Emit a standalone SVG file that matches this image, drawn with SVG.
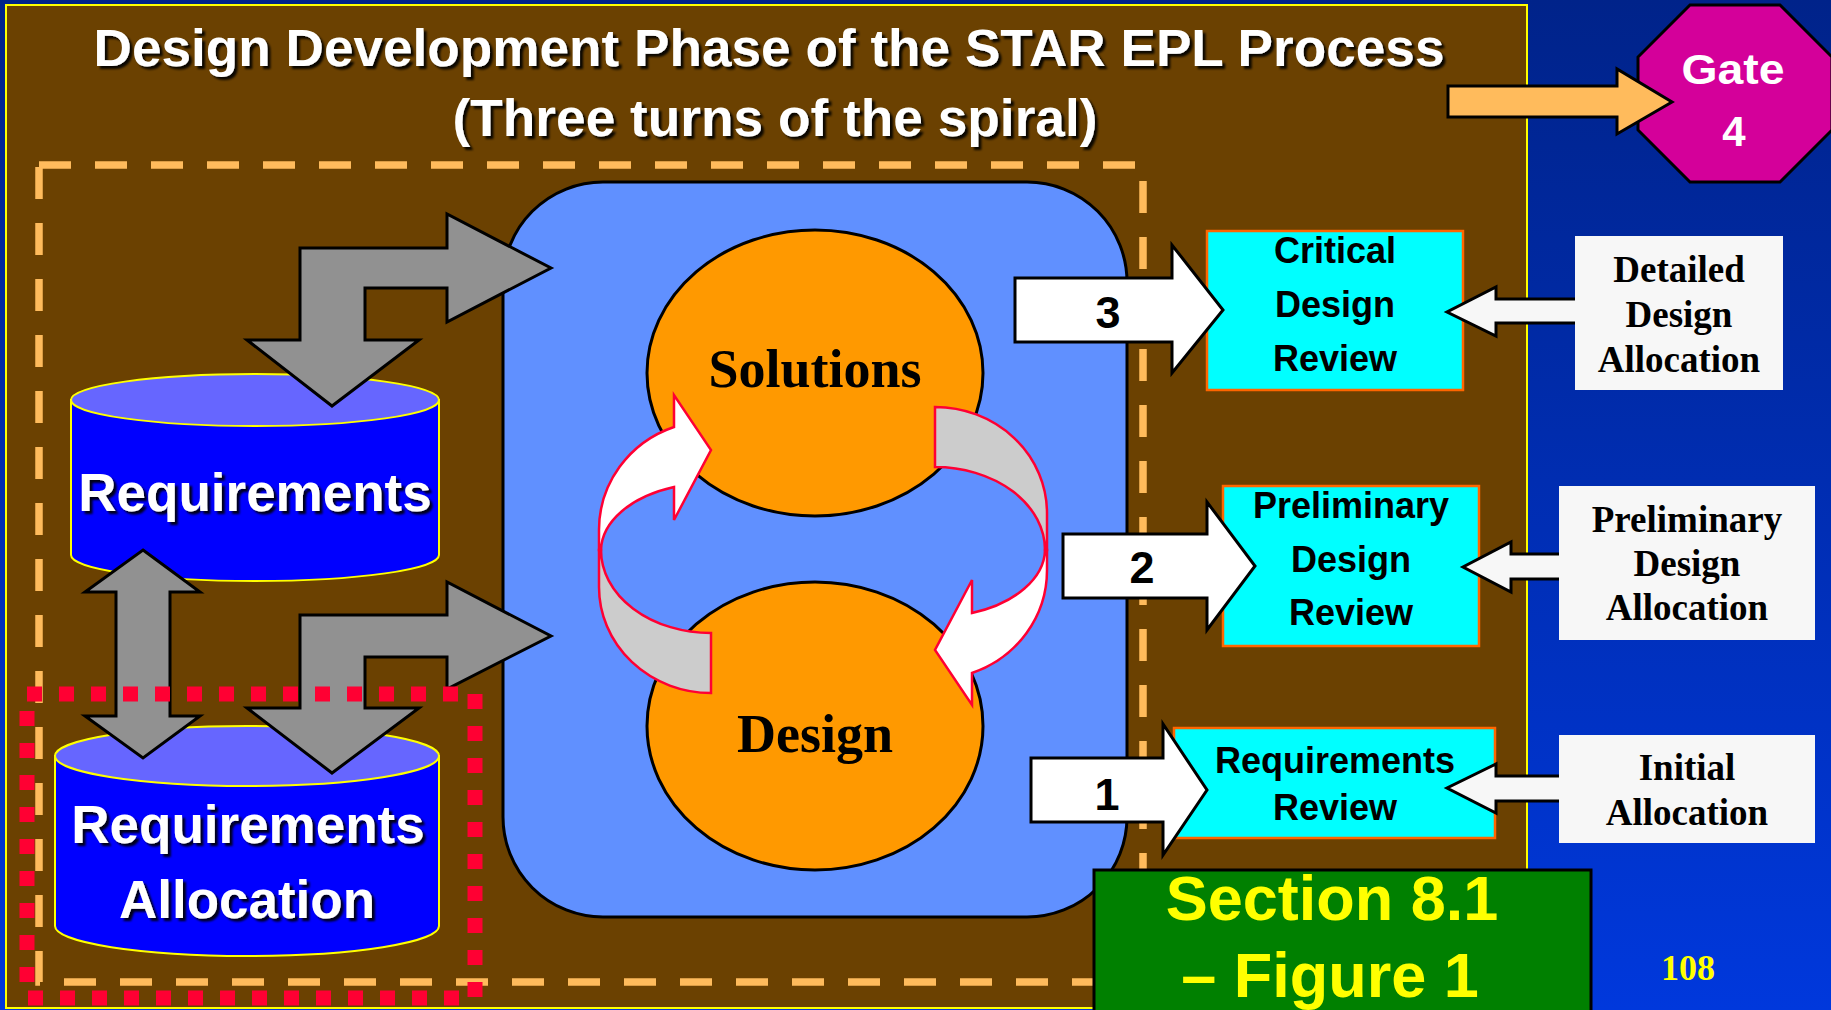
<svg xmlns="http://www.w3.org/2000/svg" width="1831" height="1010" viewBox="0 0 1831 1010">
<style>
.sans{font-family:"Liberation Sans",Arial,sans-serif;font-weight:bold}
.serif{font-family:"Liberation Serif","Times New Roman",serif;font-weight:bold}
.gray{fill:#919191;stroke:#000;stroke-width:3;stroke-linejoin:miter}
.numarrow{fill:#fff;stroke:#000;stroke-width:3}
.allocarrow{fill:#F7F7F7;stroke:#000;stroke-width:3}
.cwhite{fill:#fff;stroke:#FF0033;stroke-width:2.5}
.cgray{fill:#CCCCCC;stroke:#FF0033;stroke-width:2.5}
.review{fill:#00FFFF;stroke:#FF6600;stroke-width:2.5}
.alloc{fill:#F7F7F7}
.cylbody{fill:#0000FF;stroke:#FFFF00;stroke-width:2}
.cyltop{fill:#6666FF;stroke:#FFFF00;stroke-width:2}
.oval{fill:#FF9900;stroke:#000;stroke-width:3}
.wtext{fill:#fff;font-size:53px;text-anchor:middle}
.btext{fill:#000;font-size:36px;text-anchor:middle}
.atext{fill:#000;font-size:37px;text-anchor:middle}
.num{fill:#000;font-size:45px;text-anchor:middle}
</style>
<defs>
<linearGradient id="bg" x1="0" y1="0" x2="0" y2="1">
<stop offset="0" stop-color="#00238A"/>
<stop offset="1" stop-color="#0038DC"/>
</linearGradient>
<filter id="shadow" x="-5%" y="-20%" width="110%" height="140%">
<feDropShadow dx="3" dy="3" stdDeviation="0.8" flood-color="#000" flood-opacity="0.9"/>
</filter>
</defs>
<rect x="0" y="0" width="1831" height="1010" fill="url(#bg)"/>
<g id="panel">
<rect x="6" y="5" width="1521" height="1003" fill="#6B4101" stroke="#FFFF00" stroke-width="2"/>
</g>
<g id="title" filter="url(#shadow)">
<text class="sans" x="769" y="66" font-size="51" fill="#fff" text-anchor="middle" textLength="1351" lengthAdjust="spacingAndGlyphs">Design Development Phase of the STAR EPL Process</text>
<text class="sans" x="775" y="136" font-size="51" fill="#fff" text-anchor="middle" textLength="645" lengthAdjust="spacingAndGlyphs">(Three turns of the spiral)</text>
</g>
<g id="gate4">
<polygon points="1690,5 1780,5 1832,57 1832,130 1780,182 1690,182 1638,130 1638,57" fill="#D4009A" stroke="#000" stroke-width="3"/>
<text class="sans" x="1733" y="84" font-size="42" fill="#fff" text-anchor="middle" textLength="103" lengthAdjust="spacingAndGlyphs">Gate</text>
<text class="sans" x="1734" y="146" font-size="42" fill="#fff" text-anchor="middle">4</text>
</g>
<g id="boundary">
<rect x="39" y="165" width="1104" height="817" fill="none" stroke="#FFBB5C" stroke-width="7.5" stroke-dasharray="32 24"/>
</g>
<g id="spiral">
<rect x="503" y="182" width="624" height="735" rx="100" ry="100" fill="#6090FF" stroke="#000" stroke-width="3"/>
</g>
<g id="solutions">
<ellipse cx="815" cy="373" rx="168" ry="143" class="oval"/>
<text class="serif" x="815" y="387" font-size="54" text-anchor="middle">Solutions</text>
</g>
<g id="design">
<ellipse cx="815" cy="726" rx="168" ry="144" class="oval"/>
<text class="serif" x="815" y="752" font-size="54" text-anchor="middle">Design</text>
</g>
<g id="requirements">
<path class="cylbody" d="M71,400 V555 A184,26 0 0 0 439,555 V400 Z"/>
<ellipse class="cyltop" cx="255" cy="400" rx="184" ry="26"/>
<text class="sans wtext" x="255" y="511" filter="url(#shadow)">Requirements</text>
</g>
<g id="requirements-allocation">
<path class="cylbody" d="M55,756 V926 A192,30 0 0 0 439,926 V756 Z"/>
<ellipse class="cyltop" cx="247" cy="756" rx="192" ry="30"/>
<text class="sans wtext" x="248" y="843" font-size="52" filter="url(#shadow)">Requirements</text>
<text class="sans wtext" x="247" y="918" font-size="52" filter="url(#shadow)">Allocation</text>
</g>
<g id="critical-design-review">
<rect class="review" x="1207" y="231" width="256" height="159"/>
<text class="sans btext" x="1335" y="263">Critical</text>
<text class="sans btext" x="1335" y="317">Design</text>
<text class="sans btext" x="1335" y="371">Review</text>
</g>
<g id="preliminary-design-review">
<rect class="review" x="1223" y="486" width="256" height="160"/>
<text class="sans btext" x="1351" y="518">Preliminary</text>
<text class="sans btext" x="1351" y="572">Design</text>
<text class="sans btext" x="1351" y="625">Review</text>
</g>
<g id="requirements-review">
<rect class="review" x="1174" y="728" width="321" height="110"/>
<text class="sans btext" x="1335" y="773">Requirements</text>
<text class="sans btext" x="1335" y="820">Review</text>
</g>
<g id="connectors">
<polygon class="gray" points="300,248 447,248 447,214 551,268 447,322 447,288 365,288 365,340 419,340 332,406 247,340 300,340"/>
<polygon class="gray" points="300,615 447,615 447,582 551,636 447,689 447,657 365,657 365,708 419,708 332,773 247,708 300,708"/>
<polygon class="gray" points="143,550 200,592 170,592 170,716 200,716 143,758 85,716 116,716 116,592 85,592"/>
<g id="cycle-up">
<path class="cgray" d="M711,633 L711,693 A112,106 0 0 1 599,587 L599,550 L601,550 A110,83 0 0 0 711,633 Z"/>
<path class="cwhite" d="M674,487 L674,520 L711,450 L674,395 L674,427 A112,109 0 0 0 599,530 L599,550 L601,550 A110,68 0 0 1 674,487 Z"/>
</g>
<g id="cycle-down" transform="rotate(180 823 550)">
<path class="cgray" d="M711,633 L711,693 A112,106 0 0 1 599,587 L599,550 L601,550 A110,83 0 0 0 711,633 Z"/>
<path class="cwhite" d="M674,487 L674,520 L711,450 L674,395 L674,427 A112,109 0 0 0 599,530 L599,550 L601,550 A110,68 0 0 1 674,487 Z"/>
</g>
<polygon class="numarrow" points="1015,278 1172,278 1172,245 1223,310 1172,373 1172,342 1015,342"/>
<text class="sans num" x="1108" y="328">3</text>
<polygon class="numarrow" points="1063,534 1207,534 1207,502 1255,566 1207,630 1207,598 1063,598"/>
<text class="sans num" x="1142" y="583">2</text>
<polygon class="numarrow" points="1031,758 1163,758 1163,724 1207,790 1163,855 1163,822 1031,822"/>
<text class="sans num" x="1107" y="810">1</text>
<path class="allocarrow" d="M1575,299 L1496,299 L1496,287 L1447,312 L1496,336 L1496,323 L1575,323"/>
<path class="allocarrow" d="M1559,554 L1511,554 L1511,542 L1463,567 L1511,592 L1511,579 L1559,579"/>
<path class="allocarrow" d="M1559,776 L1496,776 L1496,764 L1447,788 L1496,813 L1496,801 L1559,801"/>
<polygon points="1448,86 1617,86 1617,69 1672,102 1617,134 1617,117 1448,117" fill="#FFBB5C" stroke="#000" stroke-width="3"/>
</g>
<g id="detailed-design-allocation">
<rect class="alloc" x="1575" y="236" width="208" height="154"/>
<text class="serif atext" x="1679" y="282">Detailed</text>
<text class="serif atext" x="1679" y="327">Design</text>
<text class="serif atext" x="1679" y="372">Allocation</text>
</g>
<g id="preliminary-design-allocation">
<rect class="alloc" x="1559" y="486" width="256" height="154"/>
<text class="serif atext" x="1687" y="532">Preliminary</text>
<text class="serif atext" x="1687" y="576">Design</text>
<text class="serif atext" x="1687" y="620">Allocation</text>
</g>
<g id="initial-allocation">
<rect class="alloc" x="1559" y="735" width="256" height="108"/>
<text class="serif atext" x="1687" y="780">Initial</text>
<text class="serif atext" x="1687" y="825">Allocation</text>
</g>
<g id="focus">
<rect x="27" y="694" width="448" height="304" fill="none" stroke="#FF0033" stroke-width="15" stroke-dasharray="15 17"/>
</g>
<g id="section-label">
<rect x="1094" y="870" width="497" height="150" fill="#008000" stroke="#000" stroke-width="3"/>
<text class="sans" x="1332" y="920" font-size="63" fill="#FFFF00" text-anchor="middle">Section 8.1</text>
<text class="sans" x="1330" y="997" font-size="63" fill="#FFFF00" text-anchor="middle">– Figure 1</text>
</g>
<g id="page-number">
<text class="serif" x="1688" y="980" font-size="36" fill="#FFFF00" text-anchor="middle">108</text>
</g>
</svg>
